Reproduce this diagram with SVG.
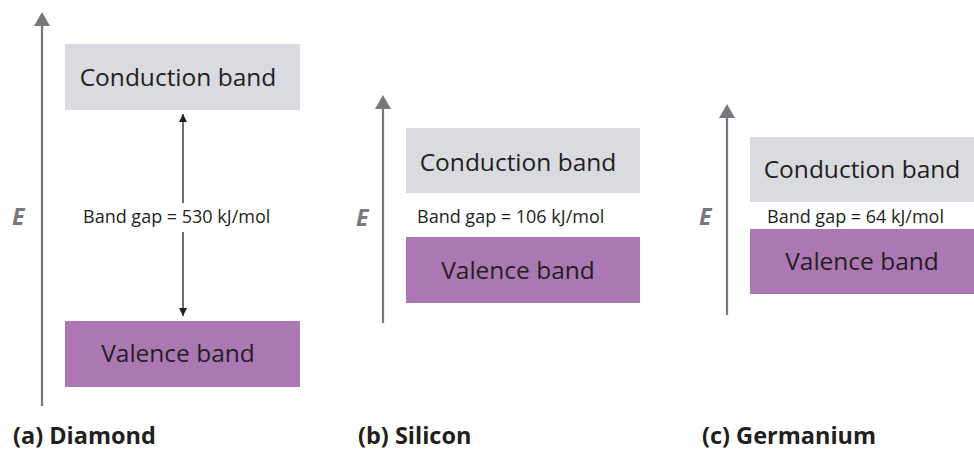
<svg xmlns="http://www.w3.org/2000/svg" width="974" height="451" viewBox="0 0 974 451">
<defs>
<style>
.axis{stroke:#77787b;stroke-width:2.2;fill:none}
.axhead{fill:#77787b}
.cb{fill:#d9dbe0}
.vb{fill:#ab78b3}
.band{font-family:"Open Sans","Liberation Sans",sans-serif;font-size:24.5px;fill:#231f20;text-anchor:middle}
.gap{font-family:"Open Sans","Liberation Sans",sans-serif;font-size:18px;fill:#231f20}
.e{font-family:"Open Sans","Liberation Sans",sans-serif;font-size:23px;font-weight:bold;font-style:italic;fill:#77787b}
.cap{font-family:"Open Sans","Liberation Sans",sans-serif;font-size:23.5px;font-weight:bold;fill:#231f20}
.dbl{stroke:#231f20;stroke-width:1.3;fill:none}
</style>
<marker id="ah" viewBox="0 0 10 10" refX="10" refY="5" markerWidth="8" markerHeight="8" markerUnits="userSpaceOnUse" orient="auto">
<path d="M0,0 L10,5 L0,10 Z" fill="#231f20"/>
</marker>
</defs>
<g id="connectors">
<line class="axis" x1="42" y1="25" x2="42" y2="406"/>
<path class="axhead" d="M42,12 L50,26 L34,26 Z"/>
<line class="axis" x1="383" y1="108" x2="383" y2="323"/>
<path class="axhead" d="M383,95 L391,109 L375,109 Z"/>
<line class="axis" x1="727" y1="117" x2="727" y2="315"/>
<path class="axhead" d="M727,104 L735,118 L719,118 Z"/>
<line class="dbl" x1="183" y1="203" x2="183" y2="114" marker-end="url(#ah)"/>
<line class="dbl" x1="183" y1="232" x2="183" y2="316" marker-end="url(#ah)"/>
</g>
<g id="a-conduction"><rect class="cb" x="65" y="44" width="235" height="66"/><text class="band" x="178" y="86">Conduction band</text></g>
<g id="a-valence"><rect class="vb" x="65" y="321" width="235" height="66"/><text class="band" x="178" y="362">Valence band</text></g>
<g id="a-gap"><text class="gap" x="83" y="223">Band gap = 530 kJ/mol</text></g>
<g id="a-e"><text class="e" x="12" y="225">E</text></g>
<g id="a-label"><text class="cap" x="13" y="444">(a) Diamond</text></g>

<g id="b-conduction"><rect class="cb" x="406" y="128" width="234" height="65"/><text class="band" x="518" y="171">Conduction band</text></g>
<g id="b-valence"><rect class="vb" x="406" y="237" width="234" height="66"/><text class="band" x="518" y="279">Valence band</text></g>
<g id="b-gap"><text class="gap" x="417" y="223">Band gap = 106 kJ/mol</text></g>
<g id="b-e"><text class="e" x="356" y="226">E</text></g>
<g id="b-label"><text class="cap" x="358" y="444">(b) Silicon</text></g>

<g id="c-conduction"><rect class="cb" x="750" y="137" width="224" height="65"/><text class="band" x="862" y="178">Conduction band</text></g>
<g id="c-valence"><rect class="vb" x="750" y="229" width="224" height="65"/><text class="band" x="862" y="270">Valence band</text></g>
<g id="c-gap"><text class="gap" x="767" y="223">Band gap = 64 kJ/mol</text></g>
<g id="c-e"><text class="e" x="699" y="225">E</text></g>
<g id="c-label"><text class="cap" x="702" y="444">(c) Germanium</text></g>
</svg>
